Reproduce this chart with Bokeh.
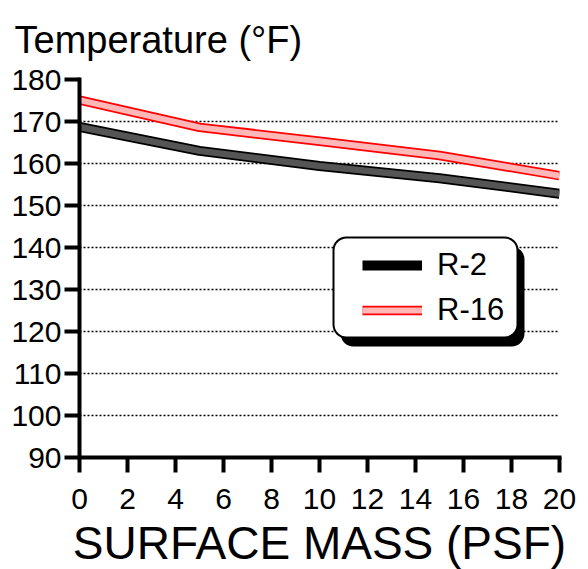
from bokeh.plotting import figure
from bokeh.models import (Range1d, FixedTicker, Legend, LegendItem, BoxAnnotation)
from bokeh.embed import file_html
from bokeh.resources import INLINE

# ---- data ----
surface_mass = [0, 5, 10, 15, 20]
r2_temp = [168.7, 163.0, 159.4, 156.5, 152.8]
r16_temp = [175.1, 168.6, 165.3, 161.9, 157.1]
x_ticks = [0, 2, 4, 6, 8, 10, 12, 14, 16, 18, 20]
y_ticks = [90, 100, 110, 120, 130, 140, 150, 160, 170, 180]
series_names = ["R-2", "R-16"]
title_text = "Temperature (\u00b0F)"
xlabel_text = "SURFACE MASS (PSF)"

FONT = "Liberation Sans"
FW, FH = 480, 378
X0, X1, Y0, Y1 = 0, 20, 90, 180
PX_X = FW / (X1 - X0)
PX_Y = FH / (Y1 - Y0)

p = figure(frame_width=FW, frame_height=FH,
           min_border_left=79, min_border_top=79, min_border_right=29, min_border_bottom=100,
           x_range=Range1d(X0, X1), y_range=Range1d(Y0, Y1),
           output_backend="svg", toolbar_location=None)
p.outline_line_color = None
p.background_fill_color = "white"
p.border_fill_color = "white"

# title
p.title.text = title_text
p.title.text_font = FONT
p.title.text_font_size = "38px"
p.title.text_font_style = "normal"
p.title.text_color = "black"
p.title.align = "left"
p.title.vertical_align = "top"
p.title.offset = -65
p.title.standoff = 34

# axes
for ax in (p.xaxis, p.yaxis):
    ax.axis_line_width = 4
    ax.axis_line_color = "black"
    ax.axis_line_cap = "square"
    ax.major_tick_line_width = 4
    ax.major_tick_line_color = "black"
    ax.major_tick_out = 15
    ax.major_tick_in = 0
    ax.minor_tick_line_color = None
    ax.major_label_text_font = FONT
    ax.major_label_text_font_size = "30px"
    ax.major_label_text_color = "black"
p.xaxis.ticker = FixedTicker(ticks=x_ticks)
p.yaxis.ticker = FixedTicker(ticks=y_ticks)
p.xaxis.major_label_standoff = 16
p.yaxis.major_label_standoff = 3
p.xaxis.axis_label = xlabel_text
p.xaxis.axis_label_text_font = FONT
p.xaxis.axis_label_text_font_size = "46px"
p.xaxis.axis_label_text_font_style = "normal"
p.xaxis.axis_label_text_color = "black"
p.xaxis.axis_label_standoff = 5

p.xgrid.grid_line_color = None
p.ygrid.ticker = FixedTicker(ticks=y_ticks[1:])
p.ygrid.grid_line_color = "black"
p.ygrid.grid_line_dash = "2 2"
p.ygrid.grid_line_width = 1.5

# series (outlined bands)
r2_out = p.line(surface_mass, r2_temp, line_color="black", line_width=10)
r2_in = p.line(surface_mass, r2_temp, line_color="#555555", line_width=6.5)
r16_out = p.line(surface_mass, r16_temp, line_color="#ff0000", line_width=9.5)
r16_in = p.line(surface_mass, r16_temp, line_color="#ffb8b8", line_width=6)

# legend box with shadow (positions from frame pixels)
bx_l, bx_r, bx_t, bx_b = 254, 438, 158, 258
sh_dx, sh_dy = 7, 9
shadow = BoxAnnotation(left=X0 + (bx_l + sh_dx) / PX_X, right=X0 + (bx_r + sh_dx) / PX_X,
                       top=Y1 - (bx_t + sh_dy) / PX_Y, bottom=Y1 - (bx_b + sh_dy) / PX_Y,
                       fill_color="black", fill_alpha=1, line_color=None, border_radius=13)
box = BoxAnnotation(left=X0 + bx_l / PX_X, right=X0 + bx_r / PX_X,
                    top=Y1 - bx_t / PX_Y, bottom=Y1 - bx_b / PX_Y,
                    fill_color="white", fill_alpha=1, line_color="black", line_alpha=1,
                    line_width=2, border_radius=13)
p.add_layout(shadow)
p.add_layout(box)

legend = Legend(items=[LegendItem(label=series_names[0], renderers=[r2_out]),
                       LegendItem(label=series_names[1], renderers=[r16_out, r16_in])],
                location=(283, 129), padding=0, margin=0, spacing=9,
                glyph_width=60, glyph_height=36, label_height=36, label_standoff=15,
                label_text_font=FONT, label_text_font_size="31px", label_text_color="black",
                border_line_color=None, background_fill_alpha=0)
p.add_layout(legend, "center")

open("out.html", "w").write(file_html(p, INLINE))
